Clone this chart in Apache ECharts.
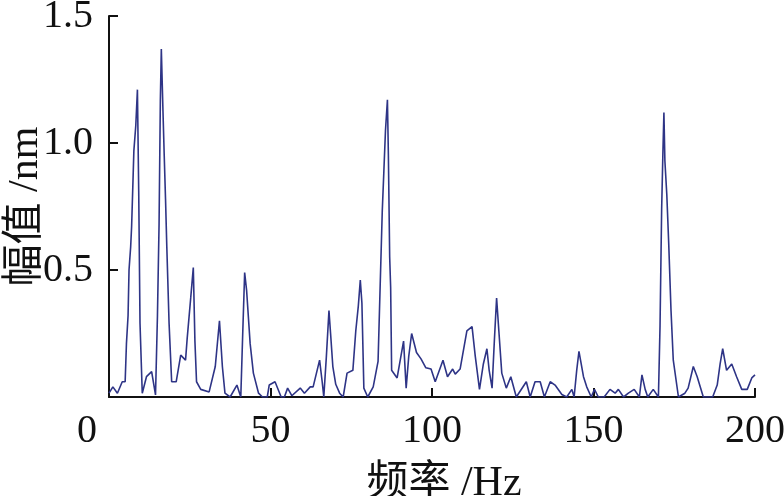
<!DOCTYPE html>
<html>
<head>
<meta charset="utf-8">
<script src="https://cdn.jsdelivr.net/npm/echarts@6/dist/echarts.min.js"></script>
<style>
  html, body { margin: 0; padding: 0; background: #fff; }
  #chart { width: 784px; height: 496px; }
</style>
</head>
<body>
<div id="chart"></div>
<script>
  // 频率 (Hz) 与 幅值 (nm)，从原图读取的折线顶点
  const freqs = [
    0, 1.2, 2.6, 4.1, 5.0, 5.4, 5.9, 6.2, 6.7, 7.0, 7.4, 7.7, 8.3, 8.8, 9.2, 9.6, 10.3, 11.6, 13.2, 14.4,
    15.0, 15.5, 15.9, 16.2, 16.7, 17.1, 17.5, 17.9, 18.6, 19.4, 20.8, 22.2, 23.7, 24.2, 25.3, 26.1, 26.6, 27.1, 28.4, 31.0,
    32.9, 34.2, 35.1, 35.9, 37.5, 39.6, 40.8, 41.4, 42.0, 42.6, 43.7, 44.7, 46.3, 47.5, 49.0, 49.6, 51.4, 53.3, 54.3, 55.3,
    56.6, 59.2, 60.5, 62.3, 63.2, 65.2, 66.0, 66.5, 67.3, 68.1, 68.6, 69.3, 70.2, 71.4, 72.5, 73.7, 74.2, 75.5, 76.4, 77.2,
    77.8, 78.3, 78.9, 80.1, 81.8, 83.3, 84.0, 84.6, 85.1, 85.6, 86.2, 86.5, 86.9, 87.2, 87.5, 89.2, 91.2, 92.0, 92.8, 93.7,
    95.2, 96.6, 98.1, 99.7, 101.0, 103.4, 104.8, 106.4, 107.2, 108.7, 110.8, 112.4, 113.4, 114.7, 115.9, 117.0, 117.7, 118.6, 119.3, 120.0,
    120.7, 121.6, 123.0, 124.4, 126.1, 129.2, 130.4, 131.9, 133.5, 134.8, 136.6, 138.1, 140.2, 141.7, 143.3, 144.0, 144.8, 145.5, 146.9, 147.9,
    149.3, 150.3, 151.5, 153.3, 155.1, 156.7, 157.7, 159.3, 160.8, 162.6, 164.2, 165.0, 166.0, 166.8, 168.5, 170.1, 170.6, 171.1, 171.5, 171.8,
    172.1, 172.7, 173.3, 174.0, 174.7, 176.3, 178.3, 179.3, 180.9, 182.1, 184.0, 186.9, 188.3, 189.2, 190.0, 191.2, 192.8, 194.3, 195.9, 197.6,
    199.0, 200.0
  ]
  const amps = [
    0.015, 0.04, 0.015, 0.06, 0.06, 0.21, 0.32, 0.50, 0.59, 0.67, 0.84, 0.97, 1.07, 1.21, 0.81, 0.29, 0.015, 0.08, 0.10, 0.008,
    0.32, 0.68, 1.17, 1.37, 1.13, 0.95, 0.78, 0.59, 0.29, 0.06, 0.06, 0.165, 0.145, 0.23, 0.39, 0.51, 0.22, 0.06, 0.03, 0.02,
    0.12, 0.30, 0.12, 0.015, 0, 0.047, 0, 0.25, 0.49, 0.42, 0.21, 0.094, 0.015, 0, 0, 0.047, 0.06, 0, 0, 0.035,
    0.005, 0.035, 0.015, 0.04, 0.04, 0.145, 0.06, 0, 0.16, 0.34, 0.25, 0.12, 0.05, 0.015, 0, 0.094, 0.10, 0.105, 0.26, 0.36,
    0.46, 0.37, 0.035, 0, 0.04, 0.14, 0.46, 0.73, 0.89, 1.05, 1.17, 0.95, 0.55, 0.43, 0.105, 0.075, 0.22, 0.035, 0.16, 0.25,
    0.175, 0.15, 0.115, 0.11, 0.06, 0.145, 0.08, 0.11, 0.09, 0.11, 0.26, 0.277, 0.16, 0.03, 0.13, 0.19, 0.105, 0.035, 0.22, 0.39,
    0.26, 0.094, 0.035, 0.08, 0, 0.06, 0, 0.06, 0.06, 0, 0.06, 0.047, 0.01, 0, 0.03, 0, 0.105, 0.18, 0.08, 0.04,
    0, 0.03, 0, 0, 0.03, 0.015, 0.03, 0, 0.015, 0.03, 0, 0.087, 0.03, 0, 0.03, 0, 0.28, 0.74, 0.97, 1.12,
    0.93, 0.795, 0.60, 0.34, 0.145, 0, 0.015, 0.035, 0.12, 0.08, 0, 0, 0.047, 0.13, 0.19, 0.105, 0.13, 0.08, 0.03, 0.03,
    0.075, 0.087
  ]
  const xTicks = [0, 50, 100, 150, 200]
  const yTicks = [0.5, 1.0, 1.5]

  const font = '"Liberation Serif", "Times New Roman", "Noto Sans CJK SC", serif'
  const chart = echarts.init(document.getElementById('chart'))

  chart.setOption({
    animation: false,
    grid: { left: 109, right: 29, top: 16, bottom: 99, containLabel: false, outerBoundsMode: 'none' },
    xAxis: {
      type: 'value',
      min: xTicks[0],
      max: xTicks[xTicks.length - 1],
      interval: 50,
      name: '频率 /Hz',
      nameLocation: 'middle',
      nameGap: 66,
      nameMoveOverlap: false,
      nameTextStyle: { fontFamily: font, fontSize: 42, color: '#111', padding: [0, 0, 0, 24] },
      axisLine: { lineStyle: { color: '#111', width: 2 } },
      axisTick: { inside: true, length: 9, lineStyle: { color: '#111', width: 2 } },
      splitLine: { show: false },
      axisLabel: {
        margin: 14,
        fontFamily: font,
        fontSize: 40,
        color: '#111',
        // 原图 "0" 偏左
        formatter: v => v === 0 ? '{z|0}' : String(v),
        rich: { z: { fontFamily: font, fontSize: 40, color: '#111', padding: [0, 44, 0, 0] } }
      }
    },
    yAxis: {
      type: 'value',
      min: 0,
      max: yTicks[yTicks.length - 1],
      interval: 0.5,
      name: '幅值 /nm',
      nameLocation: 'middle',
      nameGap: 62,
      nameMoveOverlap: false,
      nameTextStyle: { fontFamily: font, fontSize: 42, color: '#111' },
      axisLine: { show: true, lineStyle: { color: '#111', width: 2 } },
      axisTick: { inside: true, length: 9, lineStyle: { color: '#111', width: 2 } },
      splitLine: { show: false },
      axisLabel: {
        margin: 16,
        fontFamily: font,
        fontSize: 40,
        color: '#111',
        formatter: v => v === 0 ? '' : v.toFixed(1)
      }
    },
    series: [{
      type: 'line',
      data: freqs.map((f, i) => [f, amps[i]]),
      showSymbol: false,
      lineStyle: { color: '#2e3486', width: 1.6 },
      clip: true
    }]
  })
</script>
</body>
</html>
